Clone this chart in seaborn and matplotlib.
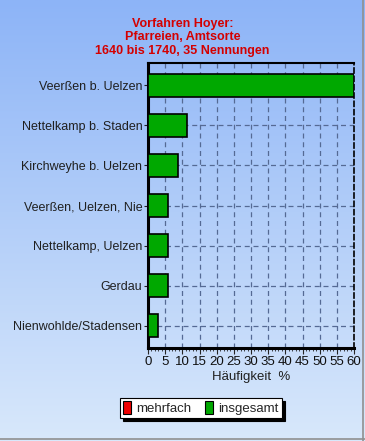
import numpy as np
import matplotlib
matplotlib.use("Agg")
import matplotlib.pyplot as plt
from matplotlib.patches import Patch
from matplotlib.lines import Line2D
import seaborn as sns
import pandas as pd

categories = ["Veerßen b. Uelzen", "Nettelkamp b. Staden", "Kirchweyhe b. Uelzen",
              "Veerßen, Uelzen, Nie", "Nettelkamp, Uelzen", "Gerdau",
              "Nienwohlde/Stadensen"]
values = [60.0, 11.4, 8.6, 5.7, 5.7, 5.7, 2.9]
x_ticks = list(range(0, 61, 5))
title_lines = ["Vorfahren Hoyer:", "Pfarreien, Amtsorte", "1640 bis 1740, 35 Nennungen"]
legend_labels = ["mehrfach", "insgesamt"]

sns.set_theme(style="white")
plt.rcParams['font.family'] = ['Liberation Sans', 'DejaVu Sans']

W, H = 365, 441
fig = plt.figure(figsize=(W / 100, H / 100), dpi=100)

# gradient background
bg = fig.add_axes([0, 0, 1, 1], zorder=-10)
top = np.array([141, 180, 247]) / 255
bot = np.array([216, 232, 251]) / 255
t = np.linspace(0, 1, 256)[:, None]
grad = (top[None, :] * (1 - t) + bot[None, :] * t)[:, None, :]
bg.imshow(grad, aspect='auto', extent=[0, 1, 0, 1], origin='upper')
bg.set_xlim(0, 1); bg.set_ylim(0, 1)
bg.axis('off')
bg.add_line(Line2D([0.995, 0.995], [0, 1], color='#909090', lw=1.2, transform=bg.transAxes))
bg.add_line(Line2D([0, 1], [0.005, 0.005], color='#909090', lw=1.2, transform=bg.transAxes))

left, right = 148 / W, 354 / W
y_top, y_bot = 63 / H, 348 / H
ax = fig.add_axes([left, 1 - y_bot, right - left, y_bot - y_top])
ax.patch.set_alpha(0)

df = pd.DataFrame({"cat": categories, "val": values})
sns.barplot(data=df, x="val", y="cat", orient="h", color="#00a800",
            saturation=1, edgecolor="black", linewidth=1.2, width=0.57, ax=ax, zorder=3)

ax.set_xlim(0, 60)
ax.set_ylim(6.55, -0.55)
ax.set_xticks(x_ticks)
ax.set_xticks(range(0, 61), minor=True)
ax.set_xticklabels([str(v) for v in x_ticks], fontsize=9.5, color='#101010')
ax.tick_params(axis='y', labelsize=9, colors='#202020', length=3, width=0.8, left=True, pad=1)
ax.tick_params(axis='x', which='major', length=4, width=0.8, bottom=True, pad=2, labelcolor='#101010')
ax.tick_params(axis='x', which='minor', length=2, width=0.6, bottom=True)
ax.set_ylabel("")
ax.set_xlabel("Häufigkeit  %", fontsize=9.5, color='#202020', labelpad=2)

# grid
grid_col = '#556a94'
for xv in x_ticks[1:-1]:
    ax.axvline(xv, color=grid_col, lw=0.9, ls=(0, (4, 3)), zorder=1)
for i in range(len(categories)):
    ax.axhline(i, color=grid_col, lw=0.9, ls=(0, (4, 3)), zorder=1)

for s in ['left', 'bottom']:
    ax.spines[s].set_linewidth(2.2)
    ax.spines[s].set_color('black')
ax.spines['top'].set_linewidth(1.5)
ax.spines['top'].set_color('black')
ax.spines['right'].set_linewidth(1.2)
ax.spines['right'].set_color('black')
ax.spines['right'].set_linestyle((0, (3, 2)))

# title
for k, line in enumerate(title_lines):
    fig.text(0.5, 1 - (24 + 13.5 * k) / H, line, ha='center', va='center',
             color='#d40000', fontsize=9, fontweight='bold')

handles = [Patch(facecolor='#f00000', edgecolor='black', lw=0.8),
           Patch(facecolor='#00a800', edgecolor='black', lw=0.8)]
leg = fig.legend(handles, legend_labels, ncol=2, loc='center',
                 bbox_to_anchor=(201 / W, 1 - 408 / H), frameon=True, fancybox=False,
                 shadow={'color': 'black', 'alpha': 1}, edgecolor='black', fontsize=9.5,
                 handlelength=0.6, handleheight=1.1, handletextpad=0.4,
                 columnspacing=1.0, borderpad=0.25, borderaxespad=0)
leg.get_frame().set_linewidth(0.8)
leg.get_frame().set_facecolor('white')

fig.savefig("out.png", dpi=100)
